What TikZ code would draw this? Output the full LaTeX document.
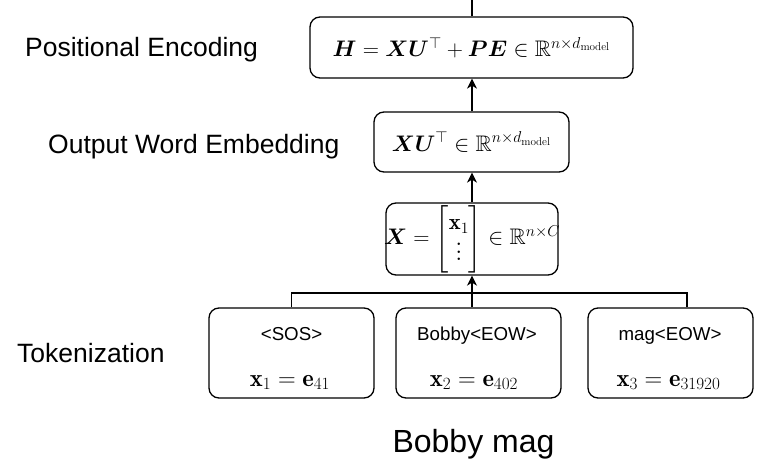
\documentclass[tikz,border=0pt]{standalone}
\usepackage{fix-cm}
\usepackage{amsmath,amssymb,bm}
\usepackage{fontspec}
\newfontfamily\arialf{Liberation Sans}
\usetikzlibrary{arrows.meta,calc}
\newcommand{\mydot}{\hbox{\fontsize{30}{30}\selectfont.}}
\newcommand{\bigvdots}{\vbox{\baselineskip=7.5pt\lineskiplimit=-10pt\kern2pt\mydot\mydot\mydot}}
\begin{document}
\begin{tikzpicture}[x=1pt,y=1pt,
  box/.style={draw,line width=1.3pt,rounded corners=10pt,inner sep=0pt},
  link/.style={line width=1.3pt},
  arr/.style={line width=1.3pt,-{Stealth[length=10pt,width=10pt,inset=3pt]}},
  side/.style={font=\arialf\fontsize{26.5}{30}\selectfont,inner sep=0pt},
  tok/.style={font=\arialf\fontsize{18.7}{22}\selectfont,inner sep=0pt,anchor=base},
  mth/.style={font=\fontsize{22.5}{26}\selectfont,inner sep=0pt},
  mthb/.style={font=\fontsize{24.5}{28}\selectfont,inner sep=0pt,anchor=base}]
\useasboundingbox (0,0) rectangle (775,469);
% boxes
\node[box,minimum width=323pt,minimum height=61pt,mth] (H) at (471.5,421.5)
  {$\bm{H}=\bm{X}\bm{U}^{\top}+\bm{P}\bm{E}\in\mathbb{R}^{n\times d_{\mathrm{model}}}$};
\node[box,minimum width=195pt,minimum height=60pt,mth] (XU) at (471.5,327)
  {$\bm{X}\bm{U}^{\top}\in\mathbb{R}^{n\times d_{\mathrm{model}}}$};
\node[box,minimum width=172pt,minimum height=72pt,mth] (X) at (472,230)
  {\makebox[168pt][c]{\renewcommand{\arraystretch}{1.2}$\bm{X}=\begin{bmatrix}\mathbf{x}_1\\ \bigvdots\end{bmatrix}\in\mathbb{R}^{n\times C}$}};
\node[box,minimum width=165pt,minimum height=90pt] (b1) at (291.5,116) {};
\node[box,minimum width=165pt,minimum height=90pt] (b2) at (478.5,116) {};
\node[box,minimum width=165pt,minimum height=90pt] (b3) at (670.5,116) {};
% box texts
\node[tok] (t1) at (291.5,129) {<SOS>};
\node[tok] (t2) at (477,129) {Bobby<EOW>};
\node[tok] (t3) at (670,129) {mag<EOW>};
\node[mthb] (m1) at (290,83) {$\mathbf{x}_1=\mathbf{e}_{41}$};
\node[mthb] (m2) at (474,83) {$\mathbf{x}_2=\mathbf{e}_{402}$};
\node[mthb] (m3) at (668.5,83) {$\mathbf{x}_3=\mathbf{e}_{31920}$};
% side labels
\node[side,anchor=base west] (lpe) at (25,412) {Positional Encoding};
\node[side,anchor=base west] (lowe) at (48,315) {Output Word Embedding};
\node[side,anchor=base west] (ltok) at (17,107) {Tokenization};
\node[font=\arialf\fontsize{32}{36}\selectfont,inner sep=0pt,anchor=base] (bm) at (473.5,17) {Bobby mag};
% connectors
\coordinate (top) at (472,469);
\coordinate (j) at (472,176);
\coordinate (b3t) at ($(b3.north)+(16.5,0)$);
\draw[link] (H.north -| top) -- (top);
\draw[arr] (XU.north -| top) -- (H.south -| top);
\draw[arr] (X.north -| top) -- (XU.south -| top);
\draw[link] (b1.north) |- (j);
\draw[link] (b3t) |- (j);
\draw[arr] (b2.north -| top) -- (X.south -| top);
\end{tikzpicture}
\end{document}
